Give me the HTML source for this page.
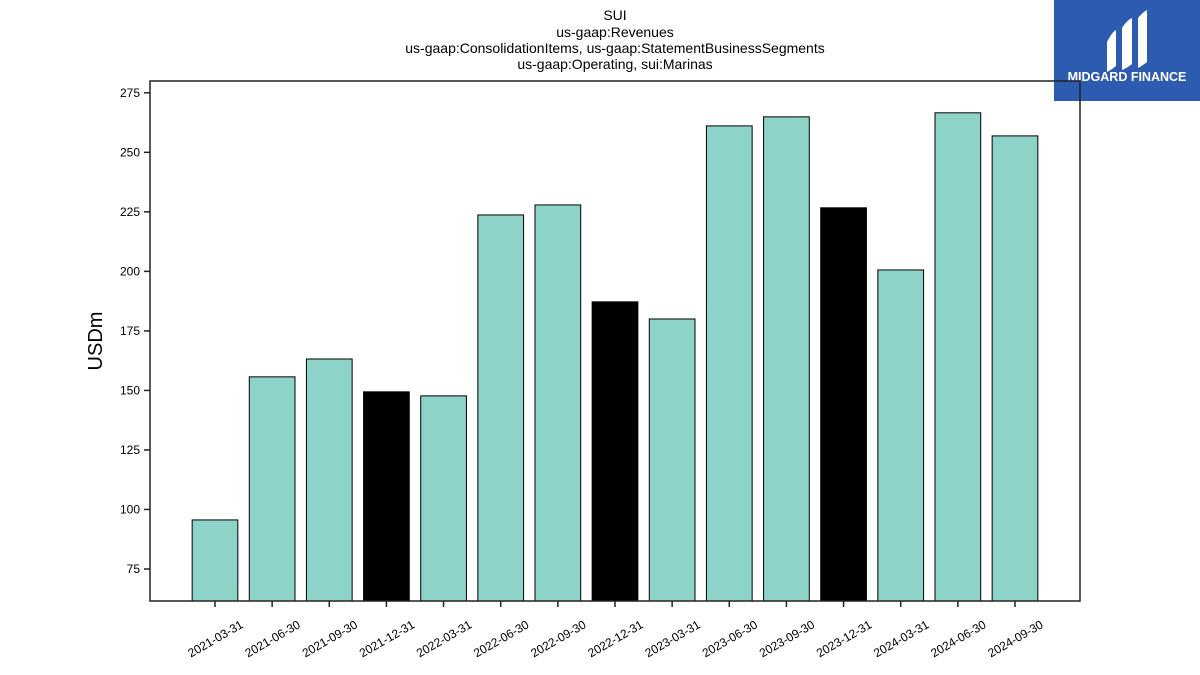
<!DOCTYPE html>
<html><head><meta charset="utf-8"><style>
body{margin:0;background:#fff;}
svg{display:block;font-family:"Liberation Sans","DejaVu Sans",sans-serif;}
</style></head><body>
<svg width="1200" height="675" viewBox="0 0 1200 675">
<g font-size="14" text-anchor="middle" fill="#000">
<text x="615" y="20">SUI</text>
<text x="615" y="37">us-gaap:Revenues</text>
<text x="615" y="53">us-gaap:ConsolidationItems, us-gaap:StatementBusinessSegments</text>
<text x="615" y="69">us-gaap:Operating, sui:Marinas</text>
</g>
<g>
<rect x="1054" y="0" width="146" height="101" fill="#2d5bb0"/>
<path d="M1107 42 Q1112 32 1116 30 L1116 66 Q1111 70 1107 72 Z" fill="#fff"/>
<path d="M1122 28 Q1127 20 1132 18 L1132 64 Q1127 68 1122 70 Z" fill="#fff"/>
<path d="M1138 18 Q1143 12 1147 10 L1147 62 Q1142 66 1138 68 Z" fill="#fff"/>
<text x="1127" y="81" font-size="12.5" font-weight="bold" fill="#fff" text-anchor="middle">MIDGARD FINANCE</text>
</g>
<g id="bars"></g>
<g id="axes"></g>
<text x="102" y="341" font-size="20" text-anchor="middle" transform="rotate(-90 102 341)">USDm</text>
</svg>
<script>
const categories=["2021-03-31","2021-06-30","2021-09-30","2021-12-31","2022-03-31","2022-06-30","2022-09-30","2022-12-31","2023-03-31","2023-06-30","2023-09-30","2023-12-31","2024-03-31","2024-06-30","2024-09-30"];
const values=[95.6,155.7,163.2,149.4,147.7,223.7,227.9,187.2,180,261.1,264.9,226.7,200.6,266.6,256.9];
const highlighted=[false,false,false,true,false,false,false,true,false,false,false,true,false,false,false];
const yTicks=[75,100,125,150,175,200,225,250,275];
const NS="http://www.w3.org/2000/svg";
const L=150,R=1080,T=81,B=601,yMin=61.55,yMax=279.96;
function y(v){return B-(v-yMin)/(yMax-yMin)*(B-T);}
const step=800/14;
function x(i){return 215+i*step;}
const bars=document.getElementById('bars'),axes=document.getElementById('axes');
function mk(t,a,p){const e=document.createElementNS(NS,t);for(const k in a)e.setAttribute(k,a[k]);p.appendChild(e);return e;}
values.forEach((v,i)=>{
 const w=step*0.8;
 const r=mk('rect',{x:x(i)-w/2,y:y(v),width:w,height:B-y(v),fill:highlighted[i]?'#000':'#8dd3c7',stroke:'#000','stroke-width':1},bars);
 
 
 const tk=mk('line',{x1:x(i),x2:x(i),y1:B,y2:B+6,stroke:'#222','stroke-width':1.5},axes);
 
 
 const lb=mk('text',{x:x(i),y:643,'font-size':12,'text-anchor':'middle',transform:`rotate(-30 ${x(i)} 638)`},axes);
 lb.textContent=categories[i];
 
 
});
yTicks.forEach(t=>{
 const tk=mk('line',{x1:L-6,x2:L,y1:y(t),y2:y(t),stroke:'#222','stroke-width':1.5},axes);
 
 
 const lb=mk('text',{x:L-10,y:y(t)+4,'font-size':12,'text-anchor':'end'},axes);
 lb.textContent=t;
 
 
});
const fr=mk('rect',{x:L,y:T,width:R-L,height:B-T,fill:'none',stroke:'#222','stroke-width':1.5},axes);


</script>
</body></html>
